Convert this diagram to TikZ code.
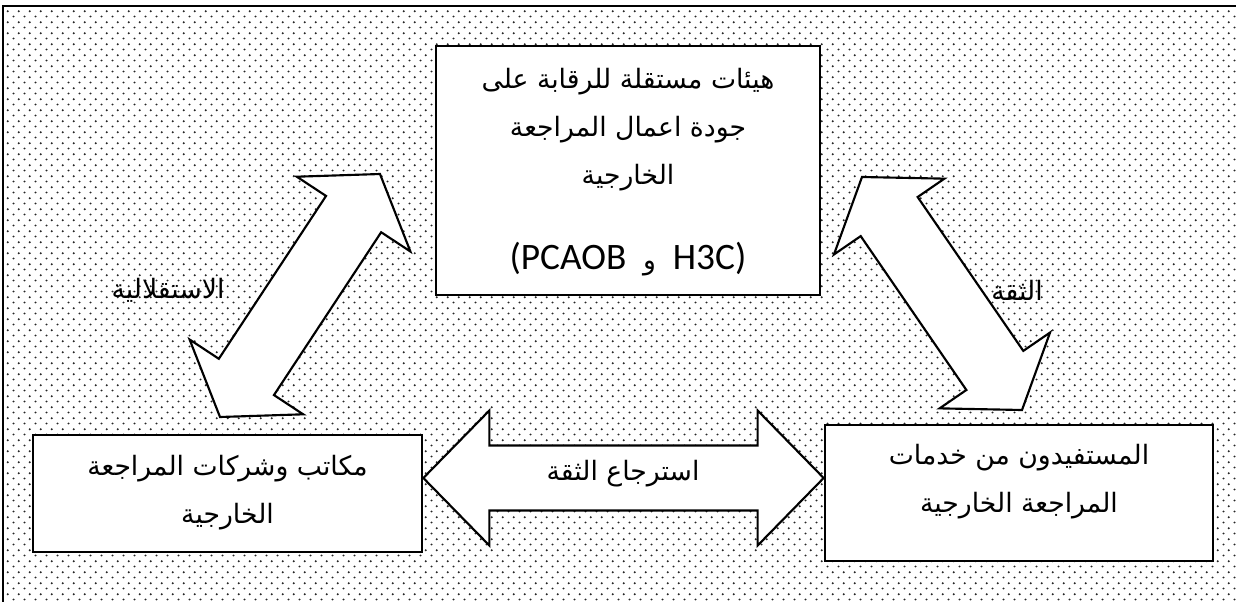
\documentclass[tikz,border=0pt]{standalone}
\usepackage{fontspec}
\usetikzlibrary{calc,patterns}
\TeXXeTstate=1
\newfontfamily\arabicfont[Script=Arabic]{DejaVu Sans}
\newfontfamily\latinfont{Carlito}

% staggered dot screen used for the page background
\pgfdeclarepatternformonly{finedots}{\pgfqpoint{0pt}{0pt}}{\pgfqpoint{8pt}{8.4pt}}{\pgfqpoint{8pt}{8.4pt}}{%
  \pgfpathcircle{\pgfqpoint{2pt}{2pt}}{0.85pt}%
  \pgfpathcircle{\pgfqpoint{6pt}{6.2pt}}{0.85pt}%
  \pgfusepath{fill}}

% wide double-headed block arrow between two tips
% #1,#2 tips, #3 head length, #4 shaft half width, #5 barb half width
\newcommand\blockarrow[5]{%
  \draw[arrowbox] (#1)
    -- ($(#1)!#3!(#2)!#5!90:(#2)$)
    -- ($(#1)!#3!(#2)!#4!90:(#2)$)
    -- ($(#2)!#3!(#1)!#4!-90:(#1)$)
    -- ($(#2)!#3!(#1)!#5!-90:(#1)$)
    -- (#2)
    -- ($(#2)!#3!(#1)!#5!90:(#1)$)
    -- ($(#2)!#3!(#1)!#4!90:(#1)$)
    -- ($(#1)!#3!(#2)!#4!-90:(#2)$)
    -- ($(#1)!#3!(#2)!#5!-90:(#2)$)
    -- cycle;}

\begin{document}
\begin{tikzpicture}[x=0.75pt,y=-0.75pt,
  box/.style={draw=black,line width=2pt,fill=white,inner sep=0pt},
  arrowbox/.style={draw=black,line width=1.6pt,fill=white,line join=miter},
  ar/.style={font=\arabicfont\fontsize{20}{36}\selectfont,align=center,inner sep=0pt}]
\useasboundingbox (0,0) rectangle (1236,601);
\clip (0,0) rectangle (1236,601);

% dotted page frame
\draw[line width=1.6pt,pattern=finedots,pattern color=black!85] (3,6) rectangle (1260,630);

% boxes
\node[box,minimum width=288pt,minimum height=186.75pt] (top) at (628,170.5) {};
\node[box,minimum width=291.75pt,minimum height=87.75pt] (firms) at (227.5,493.5) {};
\node[box,minimum width=291pt,minimum height=102pt] (users) at (1019,493) {};

\node[ar] (topTxt) at (628,172) {\beginR هيئات مستقلة للرقابة على\endR\\
  \beginR جودة اعمال المراجعة\endR\\
  \beginR الخارجية\endR\\[28pt]
  {\latinfont\fontsize{28}{36}\selectfont (PCAOB\ \ }و{\latinfont\fontsize{28}{36}\selectfont\ \ H3C)}};
\node[ar] (firmsTxt) at (227.5,493) {\beginR مكاتب وشركات المراجعة\endR\\ \beginR الخارجية\endR};
\node[ar] (usersTxt) at (1019,482) {\beginR المستفيدون من خدمات\endR\\ \beginR المراجعة الخارجية\endR};

% block arrows
\coordinate (indTop) at (380,174);
\coordinate (indBot) at (220,417);
\coordinate (trTop) at (862,177);
\coordinate (trBot) at (1022,410);
\coordinate (hmid) at (625,478);
\coordinate (hL) at (firms.east |- hmid);
\coordinate (hR) at (users.west |- hmid);

\blockarrow{indTop}{indBot}{36pt}{24.75pt}{51pt}
\blockarrow{trTop}{trBot}{36pt}{25.9pt}{50.25pt}
\blockarrow{hL}{hR}{49.5pt}{24.4pt}{50.6pt}

% arrow labels
\node[ar] (indLbl) at (168,290) {\beginR الاستقلالية\endR};
\node[ar] (trLbl) at (1017,290) {\beginR الثقة\endR};
\node[ar] (hLbl) at (623,474) {\beginR استرجاع الثقة\endR};
\end{tikzpicture}
\end{document}
